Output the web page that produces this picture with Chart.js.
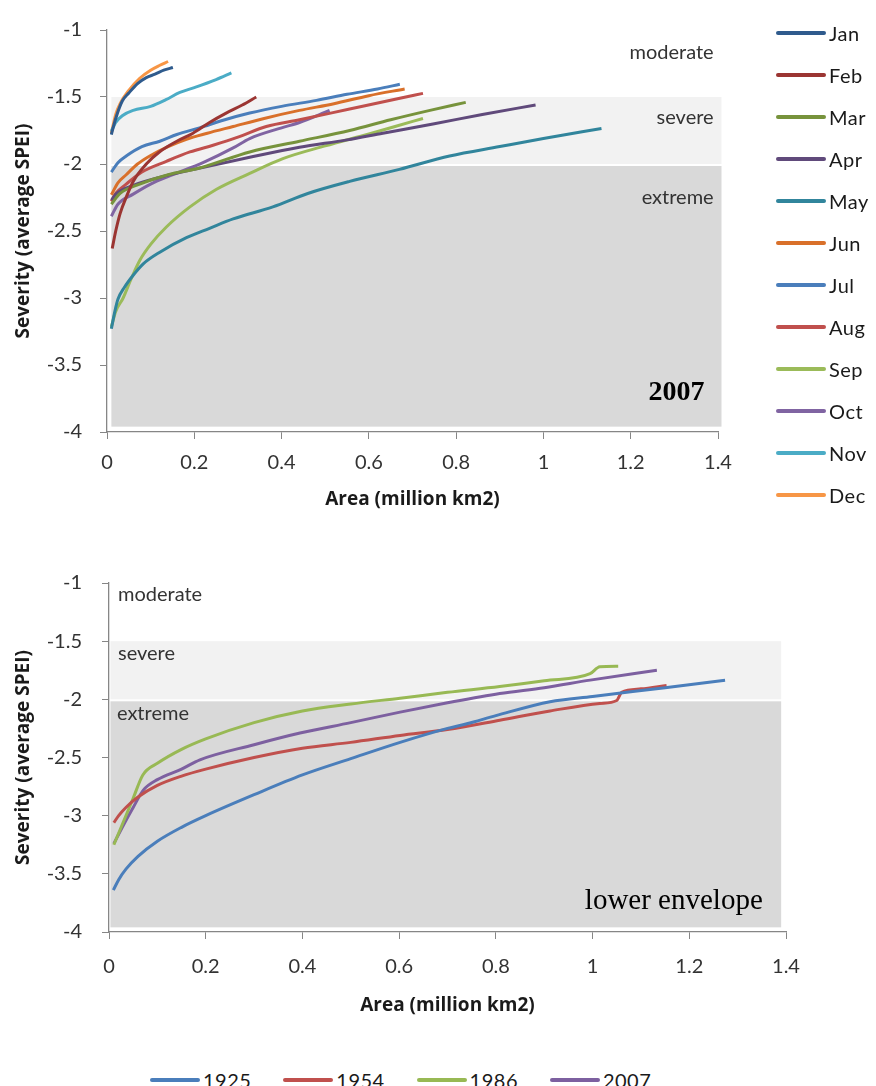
<!DOCTYPE html>
<html>
<head>
<meta charset="utf-8">
<title>Drought severity vs area</title>
<script src="https://cdn.jsdelivr.net/npm/chart.js@4.4.0/dist/chart.umd.min.js"></script>
<style>
  html, body { margin:0; padding:0; background:#fff; }
  #page { position:relative; width:876px; height:1086px; overflow:hidden; font-family: Lato, 'Open Sans', sans-serif; }
  .box { position:absolute; left:0; width:876px; }
  .lg { position:absolute; height:24px; display:flex; align-items:center; font-size:20px; color:#1a1a1a; white-space:nowrap; letter-spacing:0.5px; }
  .lg i { display:inline-block; width:50px; height:4px; border-radius:2px; margin-right:3px; }
</style>
</head>
<body>
<div id="page">
  <div class="box" style="top:0;height:530px"><canvas id="monthChart"></canvas></div>
  <div class="box" style="top:550px;height:480px"><canvas id="envChart"></canvas></div>
  <div id="monthLegend"></div>
  <div id="yearLegend"></div>
</div>
<script>
// severity (average SPEI) vs drought area (million km2), 2007 by month
const MONTHS = ['Jan','Feb','Mar','Apr','May','Jun','Jul','Aug','Sep','Oct','Nov','Dec'];
const MONTH_COLORS = ['#2f5b8d','#9b3532','#77933c','#604a7b','#31859c','#d9702a',
                      '#4a7ebb','#c0504d','#9bbb59','#8064a2','#4bacc6','#f79646'];

const jan = [[0.01,-1.78],[0.02,-1.66],[0.035,-1.53],[0.05,-1.47],[0.07,-1.40],[0.09,-1.355],[0.11,-1.33],[0.13,-1.30],[0.151,-1.28]];
const feb = [[0.012,-2.63],[0.02,-2.5],[0.03,-2.37],[0.045,-2.24],[0.06,-2.13],[0.09,-2.0],[0.12,-1.91],[0.16,-1.83],[0.197,-1.77],[0.235,-1.69],[0.273,-1.62],[0.31,-1.56],[0.342,-1.5]];
const mar = [[0.01,-2.3],[0.03,-2.22],[0.075,-2.15],[0.14,-2.08],[0.212,-2.03],[0.327,-1.91],[0.441,-1.83],[0.556,-1.75],[0.65,-1.67],[0.74,-1.6],[0.822,-1.54]];
const apr = [[0.01,-2.27],[0.022,-2.22],[0.06,-2.16],[0.12,-2.1],[0.2,-2.04],[0.327,-1.95],[0.441,-1.875],[0.55,-1.82],[0.632,-1.77],[0.75,-1.70],[0.86,-1.63],[0.982,-1.56]];
const may = [[0.01,-3.23],[0.018,-3.1],[0.025,-3.01],[0.04,-2.92],[0.06,-2.83],[0.083,-2.745],[0.12,-2.66],[0.182,-2.55],[0.235,-2.48],[0.289,-2.41],[0.38,-2.32],[0.46,-2.22],[0.556,-2.13],[0.67,-2.04],[0.785,-1.94],[0.9,-1.87],[1.0,-1.81],[1.133,-1.735]];
const jun = [[0.01,-2.23],[0.025,-2.14],[0.044,-2.08],[0.07,-2.0],[0.098,-1.94],[0.14,-1.87],[0.182,-1.815],[0.23,-1.77],[0.289,-1.72],[0.36,-1.66],[0.441,-1.6],[0.52,-1.55],[0.6,-1.49],[0.682,-1.44]];
const jul = [[0.01,-2.06],[0.025,-1.99],[0.044,-1.94],[0.08,-1.87],[0.121,-1.83],[0.16,-1.78],[0.212,-1.73],[0.27,-1.67],[0.327,-1.62],[0.4,-1.57],[0.48,-1.525],[0.55,-1.48],[0.62,-1.44],[0.671,-1.405]];
const aug = [[0.01,-2.28],[0.02,-2.22],[0.044,-2.15],[0.08,-2.06],[0.136,-1.98],[0.19,-1.91],[0.243,-1.86],[0.3,-1.8],[0.365,-1.72],[0.441,-1.67],[0.556,-1.59],[0.671,-1.51],[0.724,-1.473]];
const sep = [[0.01,-3.215],[0.02,-3.1],[0.037,-3.0],[0.055,-2.86],[0.075,-2.72],[0.1,-2.6],[0.136,-2.47],[0.19,-2.32],[0.25,-2.19],[0.327,-2.07],[0.403,-1.96],[0.5,-1.865],[0.6,-1.776],[0.66,-1.72],[0.724,-1.66]];
const oct = [[0.01,-2.39],[0.025,-2.3],[0.06,-2.225],[0.1,-2.15],[0.151,-2.08],[0.22,-1.99],[0.289,-1.88],[0.327,-1.81],[0.4,-1.73],[0.441,-1.69],[0.51,-1.6]];
const nov = [[0.01,-1.755],[0.02,-1.69],[0.035,-1.64],[0.06,-1.6],[0.1,-1.57],[0.135,-1.52],[0.167,-1.466],[0.2,-1.43],[0.25,-1.37],[0.285,-1.32]];
const dec = [[0.01,-1.77],[0.02,-1.63],[0.03,-1.55],[0.05,-1.45],[0.075,-1.36],[0.1,-1.3],[0.12,-1.265],[0.14,-1.235]];
const MONTH_SERIES = [jan, feb, mar, apr, may, jun, jul, aug, sep, oct, nov, dec];

// lower envelope for selected drought years
const YEARS = ['1925','1954','1986','2007'];
const YEAR_COLORS = ['#4a7ebb','#c0504d','#98b954','#7d60a0'];
const env1925 = [[0.009,-3.64],[0.02,-3.55],[0.035,-3.46],[0.06,-3.35],[0.1,-3.22],[0.15,-3.1],[0.2,-3.0],[0.3,-2.82],[0.4,-2.65],[0.5,-2.51],[0.602,-2.37],[0.7,-2.25],[0.74,-2.21],[0.8,-2.14],[0.912,-2.02],[1.0,-1.975],[1.05,-1.95],[1.15,-1.9],[1.274,-1.835]];
const env1954 = [[0.01,-3.06],[0.02,-3.0],[0.035,-2.93],[0.06,-2.84],[0.1,-2.74],[0.15,-2.66],[0.2,-2.6],[0.3,-2.5],[0.4,-2.42],[0.5,-2.37],[0.602,-2.31],[0.7,-2.26],[0.808,-2.18],[0.912,-2.1],[1.015,-2.035],[1.05,-2.01],[1.06,-1.94],[1.1,-1.91],[1.153,-1.88]];
const env1986 = [[0.01,-3.25],[0.03,-3.05],[0.05,-2.85],[0.07,-2.65],[0.1,-2.55],[0.15,-2.43],[0.2,-2.34],[0.3,-2.2],[0.4,-2.1],[0.5,-2.04],[0.602,-1.99],[0.7,-1.94],[0.808,-1.89],[0.9,-1.84],[0.995,-1.78],[1.015,-1.72],[1.053,-1.715]];
const env2007 = [[0.01,-3.24],[0.03,-3.08],[0.05,-2.93],[0.071,-2.78],[0.1,-2.69],[0.15,-2.6],[0.188,-2.52],[0.3,-2.39],[0.395,-2.29],[0.5,-2.2],[0.602,-2.11],[0.7,-2.03],[0.808,-1.95],[0.9,-1.9],[0.995,-1.835],[1.133,-1.75]];
const YEAR_SERIES = [env1925, env1954, env1986, env2007];

// severity classes: severe -1.5..-2, extreme -2..floor
const SEVERE = [-1.5, -2];
const EXTREME = [-2, -3.96];

const AREA_TICKS = { min: 0, max: 1.4, step: 0.2 };
const SEV_TICKS = { min: -4, max: -1, step: 0.5 };

// shaded class bands + text labels, drawn under the lines
const zonePlugin = {
  id: 'zones',
  beforeDatasetsDraw(chart, args, opts) {
    const { ctx, scales: { x, y } } = chart;
    const l = x.getPixelForValue(opts.from), r = x.getPixelForValue(opts.to);
    ctx.save();
    ctx.fillStyle = '#f2f2f2';
    let t = y.getPixelForValue(SEVERE[0]), b = y.getPixelForValue(SEVERE[1]);
    ctx.fillRect(l, t, r - l, b - t);
    ctx.fillStyle = '#d9d9d9';
    t = y.getPixelForValue(EXTREME[0]) + 2; b = y.getPixelForValue(EXTREME[1]);
    ctx.fillRect(l, t, r - l, b - t);
    ctx.textBaseline = 'middle';
    opts.labels.forEach(lb => {
      ctx.font = lb.font;
      ctx.fillStyle = lb.color || '#333';
      ctx.textAlign = lb.align;
      ctx.fillText(lb.text, x.getPixelForValue(lb.x), y.getPixelForValue(lb.y));
    });
    ctx.restore();
  }
};

function lineSets(series, names, colors) {
  return series.map((pts, i) => ({
    label: names[i],
    data: pts.map(p => ({ x: p[0], y: p[1] })),
    borderColor: colors[i],
    borderWidth: 3,
    pointRadius: 0,
    cubicInterpolationMode: 'monotone',
    fill: false
  }));
}

// plain number labels: 0, 0.2 ... 1 / -1, -1.5 ...
const fmt = v => String(Number(v.toFixed(2)));

function scales(c) {
  const axisGrey = '#868686';
  const tickFont = { family: 'Lato', size: 20 };
  const titleFont = { family: 'Open Sans', size: 19, weight: 'bold' };
  return {
    x: {
      type: 'linear', min: AREA_TICKS.min, max: AREA_TICKS.max,
      ticks: { stepSize: AREA_TICKS.step, color: '#333', font: tickFont, padding: c.xTickPad, maxRotation: 0, callback: fmt },
      grid: { drawOnChartArea: false, drawTicks: true, tickLength: 7, color: axisGrey },
      border: { color: axisGrey, width: 1.3 },
      title: { display: true, text: 'Area (million km2)', color: '#1a1a1a',
               font: titleFont, padding: { top: 0, bottom: c.xTitlePad } },
      afterFit: s => { s.height = c.xHeight; }
    },
    y: {
      type: 'linear', min: SEV_TICKS.min, max: SEV_TICKS.max,
      ticks: { stepSize: SEV_TICKS.step, color: '#333', font: tickFont, padding: c.yTickPad, callback: fmt },
      grid: { drawOnChartArea: false, drawTicks: true, tickLength: 7, color: axisGrey },
      border: { color: axisGrey, width: 1.3 },
      title: { display: true, text: 'Severity (average SPEI)', color: '#1a1a1a',
               font: titleFont, padding: { top: 12.6, bottom: 0 } },
      afterFit: s => { s.width = c.yWidth; }
    }
  };
}

const labelFont = '20px Lato';

new Chart(document.getElementById('monthChart'), {
  type: 'line',
  data: { datasets: lineSets(MONTH_SERIES, MONTHS, MONTH_COLORS) },
  options: {
    responsive: true, maintainAspectRatio: false, animation: false, devicePixelRatio: 1,
    layout: { padding: { top: 17, right: 158, left: 0, bottom: 0 } },
    scales: scales({ xHeight: 98, xTickPad: 12, xTitlePad: 18.6, yTickPad: 18, yWidth: 107 }),
    plugins: {
      legend: { display: false },
      tooltip: { enabled: false },
      zones: {
        from: 0.01, to: 1.408,
        labels: [
          { text: 'moderate', x: 1.39, y: -1.17, align: 'right', font: labelFont },
          { text: 'severe', x: 1.39, y: -1.656, align: 'right', font: labelFont },
          { text: 'extreme', x: 1.39, y: -2.25, align: 'right', font: labelFont },
          { text: '2007', x: 1.369, y: -3.71, align: 'right', font: 'bold 28px "Liberation Serif", serif', color: '#000' }
        ]
      }
    }
  },
  plugins: [zonePlugin]
});

new Chart(document.getElementById('envChart'), {
  type: 'line',
  data: { datasets: lineSets(YEAR_SERIES, YEARS, YEAR_COLORS) },
  options: {
    responsive: true, maintainAspectRatio: false, animation: false, devicePixelRatio: 1,
    layout: { padding: { top: 33, right: 90, left: 0, bottom: 0 } },
    scales: scales({ xHeight: 98, xTickPad: 16, xTitlePad: 12.6, yTickPad: 20, yWidth: 109 }),
    plugins: {
      legend: { display: false },
      tooltip: { enabled: false },
      zones: {
        from: 0.003, to: 1.39,
        labels: [
          { text: 'moderate', x: 0.0186, y: -1.097, align: 'left', font: labelFont },
          { text: 'severe', x: 0.0186, y: -1.603, align: 'left', font: labelFont },
          { text: 'extreme', x: 0.0165, y: -2.118, align: 'left', font: labelFont },
          { text: 'lower envelope', x: 1.352, y: -3.74, align: 'right', font: '29px "Liberation Serif", serif', color: '#000' }
        ]
      }
    }
  },
  plugins: [zonePlugin]
});

// legends
function legendItem(parent, name, color, left, midY) {
  const d = document.createElement('div');
  d.className = 'lg';
  d.style.left = left + 'px';
  d.style.top = (midY - 12) + 'px';
  d.innerHTML = '<i style="background:' + color + '"></i>' + name;
  parent.appendChild(d);
}
const monthLegend = document.getElementById('monthLegend');
MONTHS.forEach((m, i) => legendItem(monthLegend, m, MONTH_COLORS[i], 776, 33 + i * 42));
const yearLegend = document.getElementById('yearLegend');
YEARS.forEach((yr, i) => legendItem(yearLegend, yr, YEAR_COLORS[i], 150 + i * 133.3, 1080));
</script>
</body>
</html>
